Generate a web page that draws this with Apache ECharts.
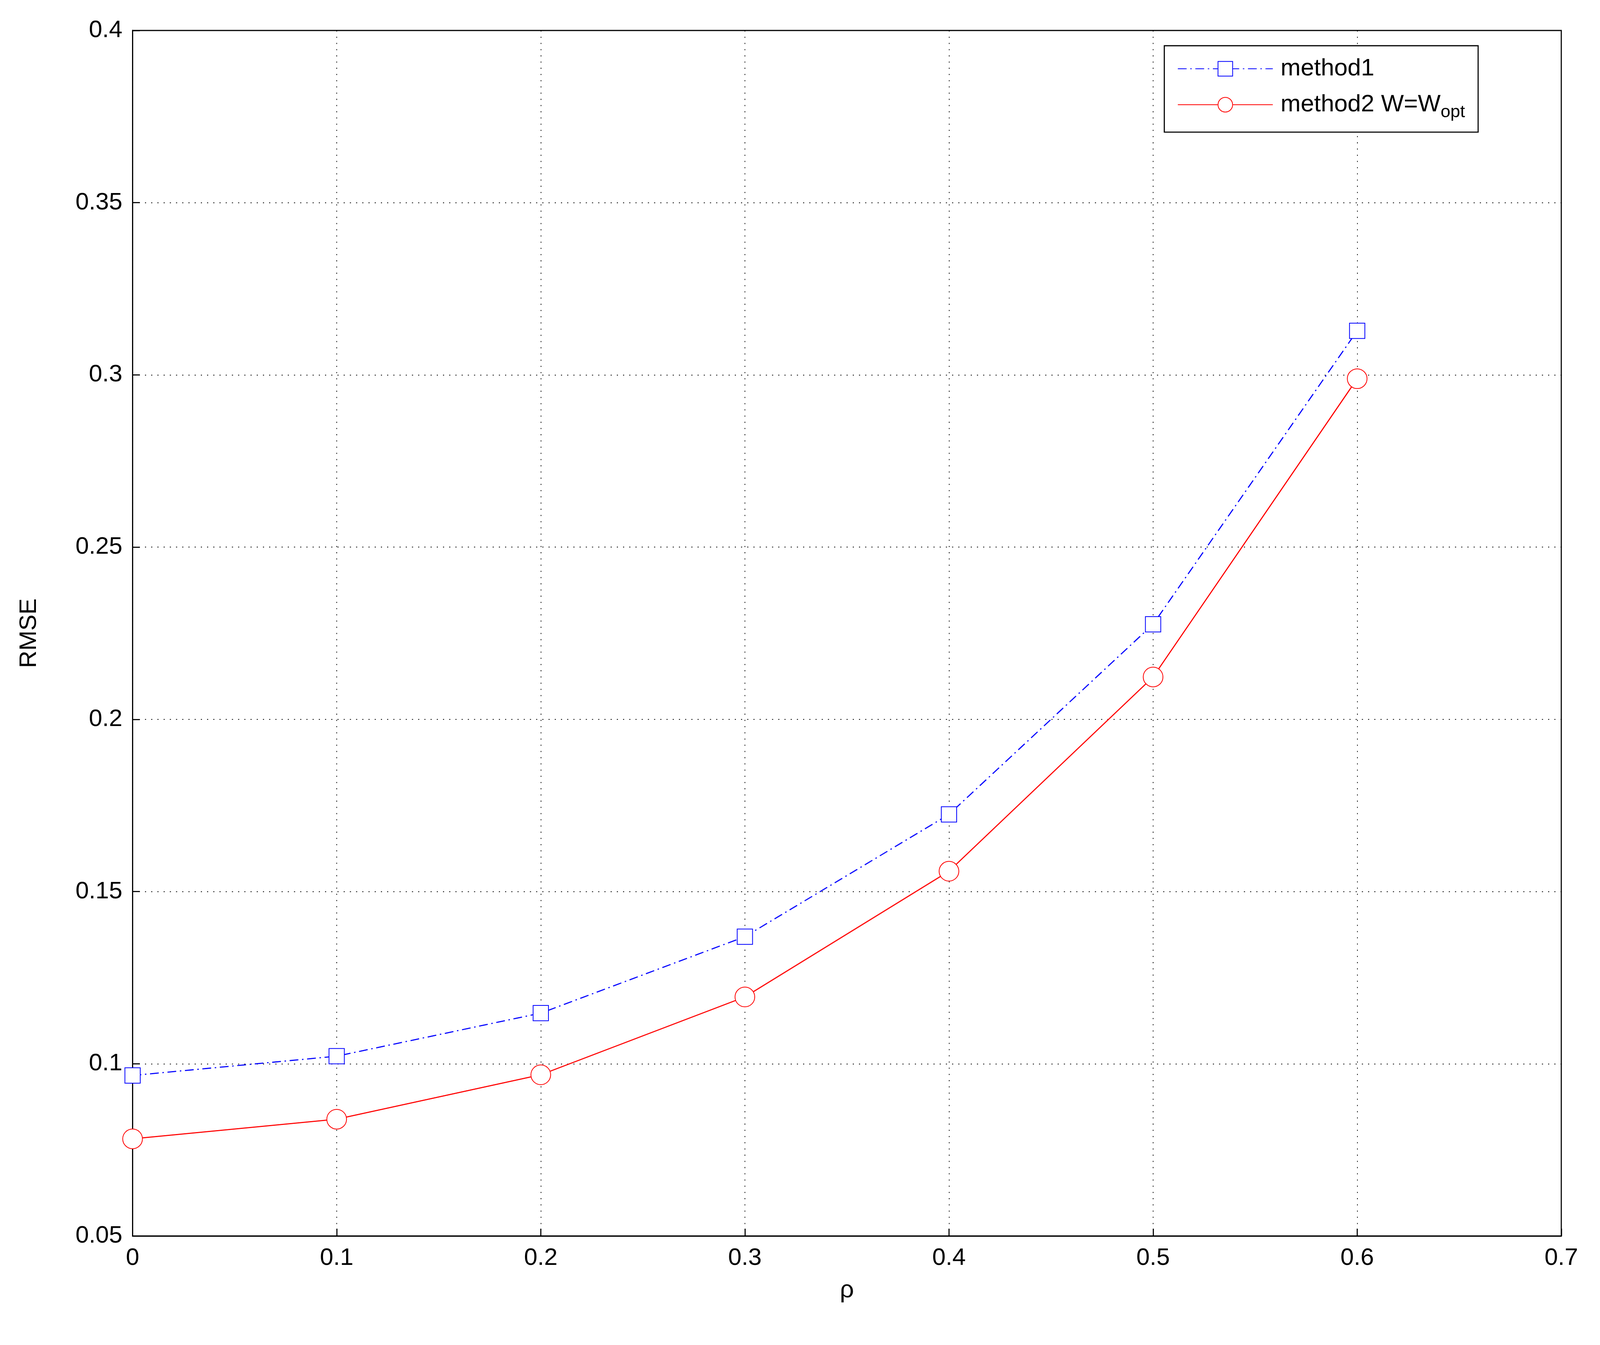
<!DOCTYPE html>
<html><head><meta charset="utf-8">
<script src="https://cdn.jsdelivr.net/npm/echarts@6/dist/echarts.min.js"></script>
<style>html,body{margin:0;padding:0;background:#fff;overflow:hidden}#c{width:100vw;height:100vh}</style>
</head><body><div id="c"></div>
<script>
const rho = [0, 0.1, 0.2, 0.3, 0.4, 0.5, 0.6];
const method1 = [0.0966, 0.1022, 0.1147, 0.1369, 0.1724, 0.2276, 0.3128];
const method2 = [0.0782, 0.0839, 0.0968, 0.1194, 0.1559, 0.2123, 0.2989];
const xTicks = [0, 0.1, 0.2, 0.3, 0.4, 0.5, 0.6, 0.7];
const yTicks = [0.05, 0.1, 0.15, 0.2, 0.25, 0.3, 0.35, 0.4];

const el = document.getElementById('c');
const W = el.clientWidth || window.innerWidth, H = el.clientHeight || window.innerHeight;
const s = Math.min(W / 4381, H / 3442);
const sx = W / 4381, sy = H / 3442;
const chart = echarts.init(el, null, {renderer: 'canvas'});
const font = 'Liberation Sans, Arial, sans-serif';
const gridLine = {show: true, lineStyle: {color: '#000', type: [3 * s, 14 * s], width: 2 * s}};
chart.setOption({
  animation: false,
  backgroundColor: '#fff',
  grid: {left: 363 * sx, right: 106 * sx, top: 78 * sy, bottom: 279 * sy, show: true, borderColor: '#000', borderWidth: 3 * s},
  xAxis: {
    type: 'value', min: 0, max: 0.7, interval: 0.1,
    name: 'ρ', nameLocation: 'middle', nameGap: 115 * s,
    nameTextStyle: {fontSize: 68 * s, fontFamily: font, color: '#000'},
    axisLine: {show: true, lineStyle: {color: '#000', width: 3 * s}},
    axisTick: {show: true, inside: true, length: 20 * s, lineStyle: {color: '#000', width: 3 * s}},
    axisLabel: {fontSize: 66 * s, fontFamily: font, color: '#000', margin: 28 * s,
      formatter: v => xTicks.includes(+v.toFixed(2)) ? String(+v.toFixed(2)) : ''},
    splitLine: gridLine
  },
  yAxis: {
    type: 'value', min: 0.05, max: 0.4, interval: 0.05,
    name: 'RMSE', nameLocation: 'middle', nameGap: 250 * s, nameRotate: 90,
    nameTextStyle: {fontSize: 66 * s, fontFamily: font, color: '#000'},
    axisLine: {show: true, lineStyle: {color: '#000', width: 3 * s}},
    axisTick: {show: true, inside: true, length: 20 * s, lineStyle: {color: '#000', width: 3 * s}},
    axisLabel: {fontSize: 66 * s, fontFamily: font, color: '#000', margin: 28 * s,
      formatter: v => { const r = +v.toFixed(2); return yTicks.includes(r) ? String(r) : ''; }},
    splitLine: gridLine
  },
  legend: {
    orient: 'vertical', left: 3188 * sx, top: 117 * sy,
    backgroundColor: '#fff', borderColor: '#000', borderWidth: 3 * s,
    padding: [30 * s, 36 * s, 30 * s, 36 * s], itemGap: 32 * s, itemWidth: 260 * s, itemHeight: 50 * s,
    textStyle: {fontSize: 66 * s, fontFamily: font, color: '#000', padding: [0, 0, 0, 16 * s],
      rich: {sub: {fontSize: 48 * s, fontFamily: font, color: '#000', padding: [42 * s, 0, 0, 0]}}},
    formatter: n => n === 'method2' ? 'method2 W=W{sub|opt}' : n,
    data: ['method1', 'method2']
  },
  series: [
    {name: 'method1', type: 'line', data: rho.map((x, i) => [x, method1[i]]),
     symbol: 'emptyRect', symbolSize: 42 * s,
     lineStyle: {color: '#0000ff', width: 3 * s, type: [24 * s, 10 * s, 4 * s, 10 * s]},
     itemStyle: {color: '#0000ff', borderColor: '#0000ff', borderWidth: 3 * s}},
    {name: 'method2', type: 'line', data: rho.map((x, i) => [x, method2[i]]),
     symbol: 'emptyCircle', symbolSize: 54 * s,
     lineStyle: {color: '#ff0000', width: 3 * s},
     itemStyle: {color: '#ff0000', borderColor: '#ff0000', borderWidth: 3 * s}}
  ]
});
</script></body></html>
